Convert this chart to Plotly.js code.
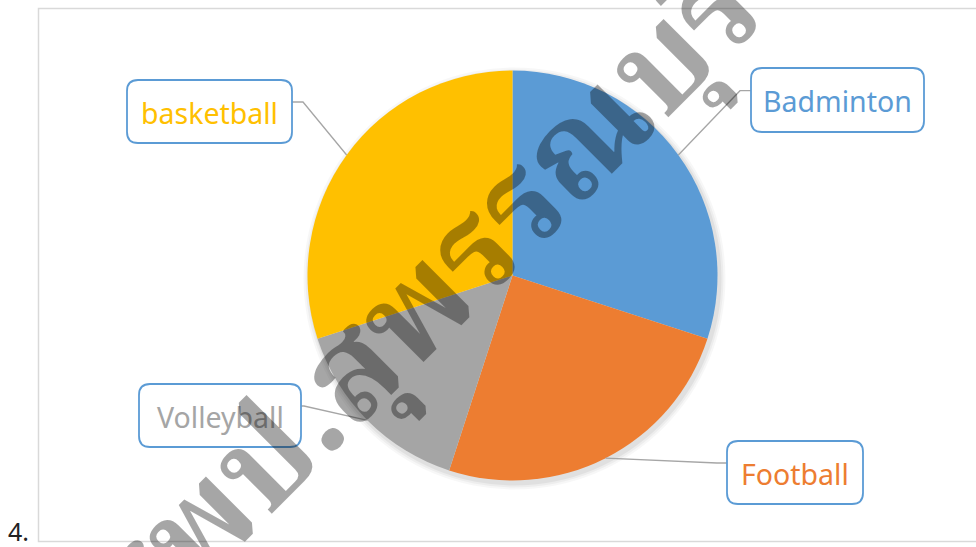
<!DOCTYPE html>
<html>
<head>
<meta charset="utf-8">
<script src="https://cdn.plot.ly/plotly-3.0.1.min.js"></script>
<style>html,body{margin:0;padding:0;background:#fff;}#chart{width:976px;height:547px;}</style>
</head>
<body>
<div id="chart"></div>
<script>
// ---- data ----
const labels = ['Badminton', 'Football', 'Volleyball', 'basketball'];
const values = [30, 25, 15, 30];
const colors = ['#5B9BD5', '#ED7D31', '#A5A5A5', '#FFC000'];
const watermark = 'สพป.สุพรรณบุรี';
const pageNumber = '4.';

// ---- layout geometry (pixels) ----
const W = 976, H = 547;
const cx = 512.5, cy = 275.5, R = 205;
const boxes = [
  {x0: 751, y0: 68,  x1: 924, y1: 132, ax: 751, ay: 90.7, ex: 740, ey: 90.7},
  {x0: 727, y0: 441, x1: 863, y1: 504, ax: 727, ay: 463,  ex: 717, ey: 463},
  {x0: 139, y0: 384, x1: 301, y1: 447, ax: 301, ay: 406,  ex: 304, ey: 406},
  {x0: 127, y0: 80,  x1: 292, y1: 143, ax: 292, ay: 102,  ex: 303, ey: 102}
];

function roundRect(b, r) {
  const {x0, y0, x1, y1} = b;
  return `M${x0 + r},${y0} L${x1 - r},${y0} Q${x1},${y0} ${x1},${y0 + r} L${x1},${y1 - r} Q${x1},${y1} ${x1 - r},${y1} L${x0 + r},${y1} Q${x0},${y1} ${x0},${y1 - r} L${x0},${y0 + r} Q${x0},${y0} ${x0 + r},${y0} Z`;
}

const total = values.reduce((a, b) => a + b, 0);
let cum = 0;
const shapes = [];
const annotations = [];

// chart frame
shapes.push({type: 'rect', xref: 'x', yref: 'y', x0: 38.5, y0: 8.5, x1: 990, y1: 541.5,
  line: {color: '#D9D9D9', width: 1.5}, fillcolor: 'rgba(0,0,0,0)', layer: 'below'});

// soft shadow of the pie
[[6, 0.03], [4, 0.04], [2, 0.05]].forEach(([d, a]) => {
  shapes.push({type: 'circle', xref: 'x', yref: 'y', x0: cx - R - d + 2, x1: cx + R + d + 2,
    y0: cy - R - d + 3, y1: cy + R + d + 3, line: {width: 0}, fillcolor: `rgba(0,0,0,${a})`, layer: 'below'});
});

labels.forEach((lab, i) => {
  const mid = (cum + values[i] / 2) / total * 2 * Math.PI;
  cum += values[i];
  const px = cx + R * Math.sin(mid), py = cy - R * Math.cos(mid);
  const b = boxes[i];
  shapes.push({type: 'path', xref: 'x', yref: 'y',
    path: `M${b.ax},${b.ay} L${b.ex},${b.ey} L${px},${py}`,
    line: {color: '#A6A6A6', width: 1.3}});
  shapes.push({type: 'path', xref: 'x', yref: 'y', path: roundRect(b, 11),
    line: {color: '#5B9BD5', width: 1.8}, fillcolor: '#FFFFFF'});
  annotations.push({xref: 'x', yref: 'y', x: (b.x0 + b.x1) / 2, y: (b.y0 + b.y1) / 2 + 1,
    text: lab, showarrow: false, xanchor: 'center', yanchor: 'middle',
    font: {family: 'Noto Sans, Open Sans, sans-serif', size: 28.5, color: colors[i]}});
});

annotations.push({xref: 'x', yref: 'y', x: 18, y: 531, text: pageNumber, showarrow: false,
  font: {family: 'Noto Sans, sans-serif', size: 25, color: '#222'}});

annotations.push({xref: 'x', yref: 'y', x: 428, y: 308, text: '<b>' + watermark + '</b>', showarrow: false,
  textangle: -45, xanchor: 'center', yanchor: 'middle',
  font: {family: 'Noto Serif Thai, Noto Sans Thai, Loma, Garuda, Noto Sans, sans-serif', size: 132, color: 'rgba(0,0,0,0.35)'}});

const data = [{
  type: 'pie', labels: labels, values: values,
  marker: {colors: colors, line: {width: 0}},
  sort: false, direction: 'clockwise', rotation: 0,
  textinfo: 'none', hoverinfo: 'label+value', showlegend: false,
  domain: {x: [(cx - R) / W, (cx + R) / W], y: [1 - (cy + R) / H, 1 - (cy - R) / H]}
}];

const layout = {
  width: W, height: H, margin: {l: 0, r: 0, t: 0, b: 0},
  paper_bgcolor: '#FFFFFF', plot_bgcolor: 'rgba(0,0,0,0)',
  xaxis: {range: [0, W], visible: false, fixedrange: true, domain: [0, 1]},
  yaxis: {range: [H, 0], visible: false, fixedrange: true, domain: [0, 1]},
  shapes: shapes, annotations: annotations, showlegend: false
};

Plotly.newPlot('chart', data, layout, {displayModeBar: false, staticPlot: true});
</script>
</body>
</html>
